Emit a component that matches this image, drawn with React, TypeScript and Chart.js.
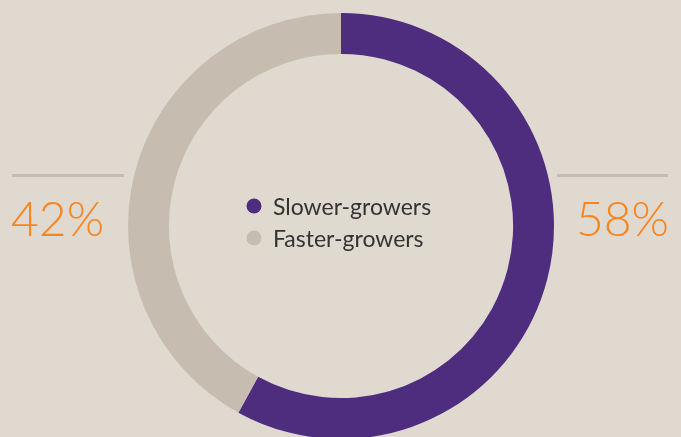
import React, { useEffect, useRef } from "react";
import { Chart, registerables } from "chart.js";
Chart.register(...registerables);

const categories = ["Slower-growers", "Faster-growers"];
const values = [58, 42];
const colors = ["#4e2d7f", "#c6bdb0"];
const BG = "#e0d9cf";
const ORANGE = "#f7841f";

const overlay = {
  id: "overlay",
  afterDraw(chart: any) {
    const ctx = chart.ctx;
    const meta = chart.getDatasetMeta(0);
    const arc = meta.data[0];
    const cx = arc.x;
    const cy = arc.y;
    ctx.save();
    // side rules
    ctx.fillStyle = "#c6bdb0";
    ctx.fillRect(12, 174, 112, 3);
    ctx.fillRect(557, 174, 111, 3);
    // percentages
    ctx.fillStyle = ORANGE;
    ctx.font = "300 48px Lato";
    ctx.textBaseline = "alphabetic";
    ctx.textAlign = "left";
    ctx.fillText(values[1] + "%", 11, 236);
    ctx.textAlign = "right";
    ctx.fillText(values[0] + "%", 669, 236);
    // legend
    ctx.textAlign = "left";
    ctx.font = "400 23px Lato";
    const rows = [
      { y: cy - 20, label: categories[0], color: colors[0] },
      { y: cy + 12, label: categories[1], color: colors[1] },
    ];
    rows.forEach((r) => {
      ctx.fillStyle = r.color;
      ctx.beginPath();
      ctx.arc(cx - 87, r.y, 7.5, 0, Math.PI * 2);
      ctx.fill();
      ctx.fillStyle = "#333333";
      ctx.fillText(r.label, cx - 68, r.y + 8.5);
    });
    ctx.restore();
  },
};

export default function App() {
  const ref = useRef<HTMLCanvasElement>(null);
  useEffect(() => {
    document.body.style.margin = "0";
    const chart = new Chart(ref.current!, {
      type: "doughnut",
      data: {
        labels: categories,
        datasets: [
          {
            data: values,
            backgroundColor: colors,
            borderWidth: 0,
          },
        ],
      },
      options: {
        animation: false,
        responsive: false,
        cutout: "80.8%",
        layout: { padding: { top: 13, bottom: 13, left: 0, right: 0 } },
        plugins: { legend: { display: false }, tooltip: { enabled: false } },
      },
      plugins: [overlay],
    });
    return () => chart.destroy();
  }, []);
  return (
    <div style={{ width: 681, height: 437, overflow: "hidden", background: BG }}>
      <canvas ref={ref} width={682} height={452} style={{ display: "block" }} />
    </div>
  );
}
